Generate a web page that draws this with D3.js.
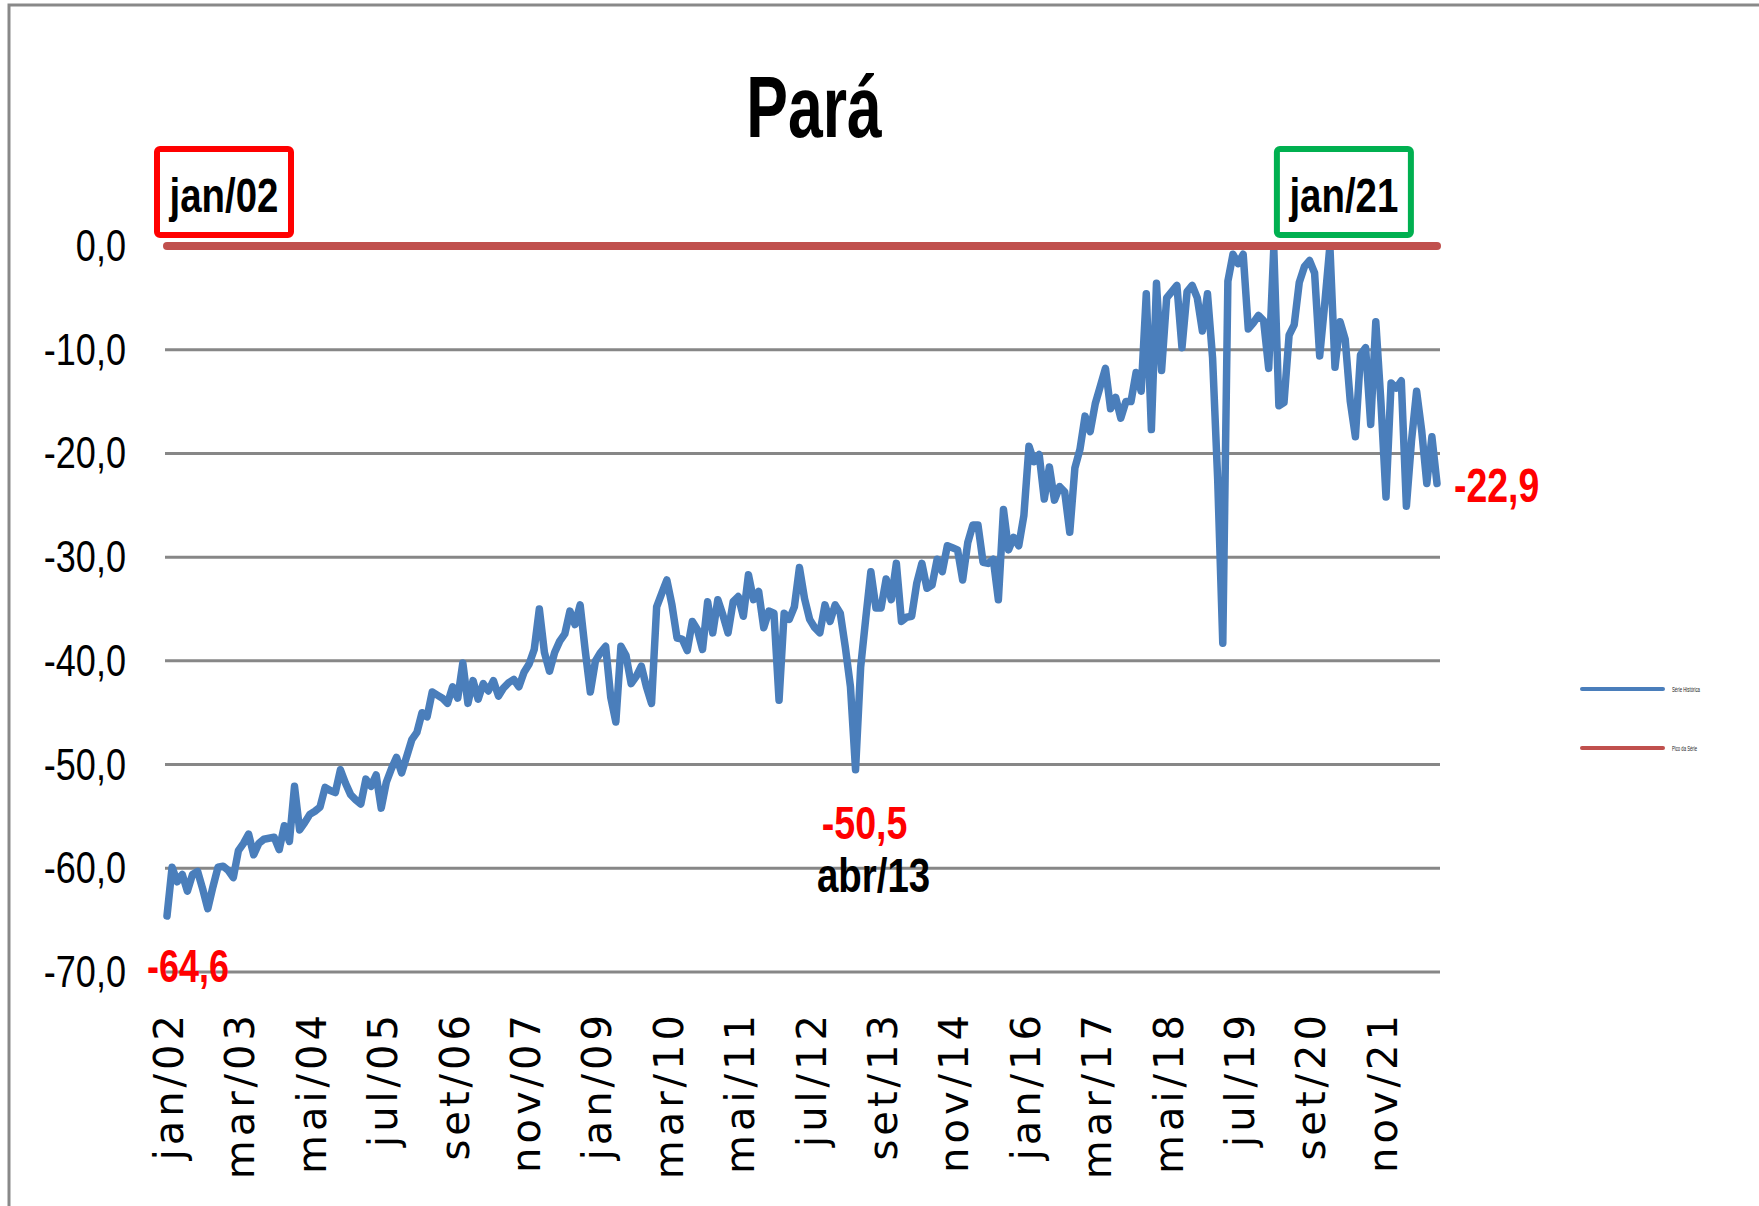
<!DOCTYPE html>
<html>
<head>
<meta charset="utf-8">
<script src="https://cdn.jsdelivr.net/npm/d3@7"></script>
<style>
  body { margin: 0; background: #fff; }
  svg { display: block; }
</style>
</head>
<body>
<div id="chart"></div>
<script>
// ---- data ----
const monthNames = ["jan", "fev", "mar", "abr", "mai", "jun", "jul", "ago", "set", "out", "nov", "dez"];
const startYear = 2002;

// Série Histórica, monthly from jan/02 to out/22
const serieHistorica = [
  -64.6, -59.9, -61.3, -60.6, -62.2, -60.6, -60.3, -62.0, -63.9, -61.8,
  -59.9, -59.8, -60.2, -60.9, -58.3, -57.6, -56.7, -58.7, -57.6, -57.2,
  -57.1, -57.0, -58.2, -55.9, -57.4, -52.1, -56.3, -55.6, -54.8, -54.5,
  -54.1, -52.2, -52.5, -52.7, -50.5, -51.8, -52.9, -53.4, -53.8, -51.4,
  -52.1, -51.0, -54.2, -51.7, -50.4, -49.3, -50.8, -49.2, -47.6, -46.9,
  -45.0, -45.4, -43.0, -43.3, -43.6, -44.1, -42.5, -43.6, -40.2, -44.1,
  -41.9, -43.7, -42.2, -42.9, -41.9, -43.4, -42.6, -42.1, -41.8, -42.5,
  -41.1, -40.3, -38.9, -35.0, -39.2, -41.0, -39.2, -38.1, -37.4, -35.2,
  -36.5, -34.6, -39.0, -43.0, -40.0, -39.2, -38.6, -43.5, -45.9, -38.6,
  -39.5, -42.2, -41.5, -40.5, -42.5, -44.1, -34.8, -33.5, -32.2, -34.6,
  -37.8, -37.9, -39.0, -36.2, -37.0, -38.9, -34.3, -37.3, -34.1, -35.6,
  -37.3, -34.3, -33.8, -35.7, -31.7, -34.1, -33.3, -36.8, -35.2, -35.4,
  -43.8, -35.4, -36.0, -34.8, -31.0, -34.0, -36.0, -36.8, -37.3, -34.6,
  -36.2, -34.6, -35.4, -38.7, -42.5, -50.5, -40.6, -35.9, -31.4, -34.9,
  -34.9, -32.1, -34.1, -30.6, -36.2, -35.8, -35.7, -32.5, -30.6, -33.0,
  -32.7, -30.2, -31.4, -28.9, -29.1, -29.3, -32.2, -28.6, -26.9, -26.9,
  -30.5, -30.6, -30.2, -34.1, -25.4, -29.3, -28.1, -28.9, -26.0, -19.3,
  -20.8, -20.1, -24.4, -21.3, -24.5, -23.2, -23.7, -27.6, -21.4, -19.6,
  -16.4, -17.9, -15.2, -13.5, -11.8, -15.7, -14.6, -16.6, -15.0, -15.0,
  -12.2, -14.0, -4.6, -17.7, -3.6, -12.0, -5.0, -4.4, -3.8, -9.8,
  -4.4, -3.8, -5.0, -8.2, -4.6, -10.8, -22.5, -38.3, -3.4, -0.8,
  -1.7, -0.8, -8.0, -7.4, -6.7, -7.2, -11.8, -0.2, -15.4, -15.1,
  -8.6, -7.6, -3.5, -2.0, -1.4, -2.6, -10.6, -5.5, 0.0, -11.7,
  -7.3, -9.0, -15.0, -18.4, -10.5, -9.8, -17.2, -7.3, -15.0, -24.2,
  -13.2, -13.7, -13.0, -25.1, -18.8, -14.0, -17.8, -22.9, -18.4, -22.9
];

// Pico da Série (flat reference level)
const picoDaSerie = 0.0;

const tickLabels = ["jan/02", "mar/03", "mai/04", "jul/05", "set/06", "nov/07", "jan/09", "mar/10", "mai/11",
  "jul/12", "set/13", "nov/14", "jan/16", "mar/17", "mai/18", "jul/19", "set/20", "nov/21"];
const yTicks = [0, -10, -20, -30, -40, -50, -60, -70];

const seriesNames = ["Série Histórica", "Pico da Série"];
const markedLabels = ["jan/02", "abr/13"];     // min values called out
const periodLabels = ["jan/02", "jan/21"];     // boxed period ends

const categories = serieHistorica.map((d, i) =>
  monthNames[i % 12] + "/" + String((startYear + Math.floor(i / 12)) % 100).padStart(2, "0"));

// ---- set up ----
const width = 1759, height = 1206;
const blue = "#4a7ebb", red = "#c0504d", grid = "#878787";
const ptBR = d3.formatLocale({ decimal: ",", thousands: ".", grouping: [3], currency: ["R$", ""], minus: "-" });
const fmt = ptBR.format(".1f");

const svg = d3.select("#chart")
  .append("svg")
  .attr("width", width)
  .attr("height", height);

svg.append("rect")
  .attr("x", 0).attr("y", 0)
  .attr("width", width).attr("height", height)
  .attr("fill", "#fff");

// chart border (only top and left visible)
svg.append("rect")
  .attr("x", 9).attr("y", 5)
  .attr("width", width + 20).attr("height", height + 20)
  .attr("fill", "none")
  .attr("stroke", "#898989")
  .attr("stroke-width", 3);

// ---- scales ----
const xScale = d3.scalePoint().domain(categories).range([167, 1437]);
const yScale = d3.scaleLinear().domain([-70, 0]).range([972, 246]);

// condensed text helper
function condensedText(g, x, y, txt, size, sx, attrs) {
  const t = g.append("text")
    .attr("transform", `translate(${x},${y}) scale(${sx},1)`)
    .attr("font-family", "'Liberation Sans', Arial, sans-serif")
    .attr("font-size", size)
    .text(txt);
  Object.entries(attrs || {}).forEach(([k, v]) => t.attr(k, v));
  return t;
}

// ---- gridlines ----
svg.append("g")
  .selectAll("line")
  .data(yTicks)
  .join("line")
  .attr("x1", xScale.range()[0] - 2)
  .attr("x2", xScale.range()[1] + 3)
  .attr("y1", d => yScale(d))
  .attr("y2", d => yScale(d))
  .attr("stroke", grid)
  .attr("stroke-width", 3);

// ---- y labels ----
const yLab = svg.append("g");
yTicks.forEach(t => {
  condensedText(yLab, 126, yScale(t) + 15, fmt(t), 44, 0.82, { "text-anchor": "end", fill: "#000" });
});

// ---- x labels ----
svg.append("g")
  .selectAll("text")
  .data(tickLabels)
  .join("text")
  .attr("transform", d => `translate(${xScale(d) + 16},1011) rotate(-90)`)
  .attr("text-anchor", "end")
  .attr("font-family", "'DejaVu Sans', Verdana, sans-serif")
  .attr("font-size", 40)
  .attr("letter-spacing", 4)
  .attr("fill", "#000")
  .text(d => d);

// ---- lines ----
const line = d3.line()
  .x((d, i) => xScale(categories[i]))
  .y(d => yScale(d));

svg.append("path")
  .datum(serieHistorica)
  .attr("d", line)
  .attr("fill", "none")
  .attr("stroke", blue)
  .attr("stroke-width", 7.5)
  .attr("stroke-linejoin", "round")
  .attr("stroke-linecap", "round");

svg.append("path")
  .datum(categories.map(() => picoDaSerie))
  .attr("d", line)
  .attr("fill", "none")
  .attr("stroke", red)
  .attr("stroke-width", 8)
  .attr("stroke-linecap", "round");

// ---- title ----
condensedText(svg, 814, 137, "Pará", 88, 0.71, { "text-anchor": "middle", "font-weight": "bold", fill: "#000" });

// ---- period boxes ----
const boxColors = [ "#ff0000", "#00b050" ];
periodLabels.forEach((lab, k) => {
  const cx = k === 0 ? xScale(lab) + 57 : xScale(lab) + 14;
  svg.append("rect")
    .attr("x", cx - 67).attr("y", 149)
    .attr("width", 134).attr("height", 86)
    .attr("rx", 3)
    .attr("fill", "#fff")
    .attr("stroke", boxColors[k])
    .attr("stroke-width", 6);
  condensedText(svg, cx, 212, lab, 49, 0.784, { "text-anchor": "middle", "font-weight": "bold", fill: "#000" });
});

// ---- value call-outs ----
const first = serieHistorica[0];
const minIdx = categories.indexOf(markedLabels[1]);
const last = serieHistorica[serieHistorica.length - 1];

condensedText(svg, xScale(markedLabels[0]) + 21, yScale(first) + 66, fmt(first), 46, 0.78,
  { "text-anchor": "middle", "font-weight": "bold", fill: "#ff0000" });
condensedText(svg, xScale(markedLabels[1]) + 9, yScale(serieHistorica[minIdx]) + 69, fmt(serieHistorica[minIdx]), 47, 0.8,
  { "text-anchor": "middle", "font-weight": "bold", fill: "#ff0000" });
condensedText(svg, xScale(markedLabels[1]) + 18, yScale(serieHistorica[minIdx]) + 122, markedLabels[1], 48, 0.8,
  { "text-anchor": "middle", "font-weight": "bold", fill: "#000" });
condensedText(svg, xScale(categories[categories.length - 1]) + 17, yScale(last) + 18, fmt(last), 48, 0.78,
  { "text-anchor": "start", "font-weight": "bold", fill: "#ff0000" });

// ---- legend ----
const legend = svg.append("g");
[blue, red].forEach((c, k) => {
  const y = 689 + k * 59;
  legend.append("line")
    .attr("x1", 1582).attr("x2", 1663)
    .attr("y1", y).attr("y2", y)
    .attr("stroke", c)
    .attr("stroke-width", 4)
    .attr("stroke-linecap", "round");
  legend.append("text")
    .attr("x", 1672).attr("y", y + 3)
    .attr("font-family", "'Liberation Sans', Arial, sans-serif")
    .attr("font-size", 8)
    .attr("textLength", k === 0 ? 28 : 25)
    .attr("lengthAdjust", "spacingAndGlyphs")
    .attr("fill", "#222")
    .text(seriesNames[k]);
});
</script>
</body>
</html>
